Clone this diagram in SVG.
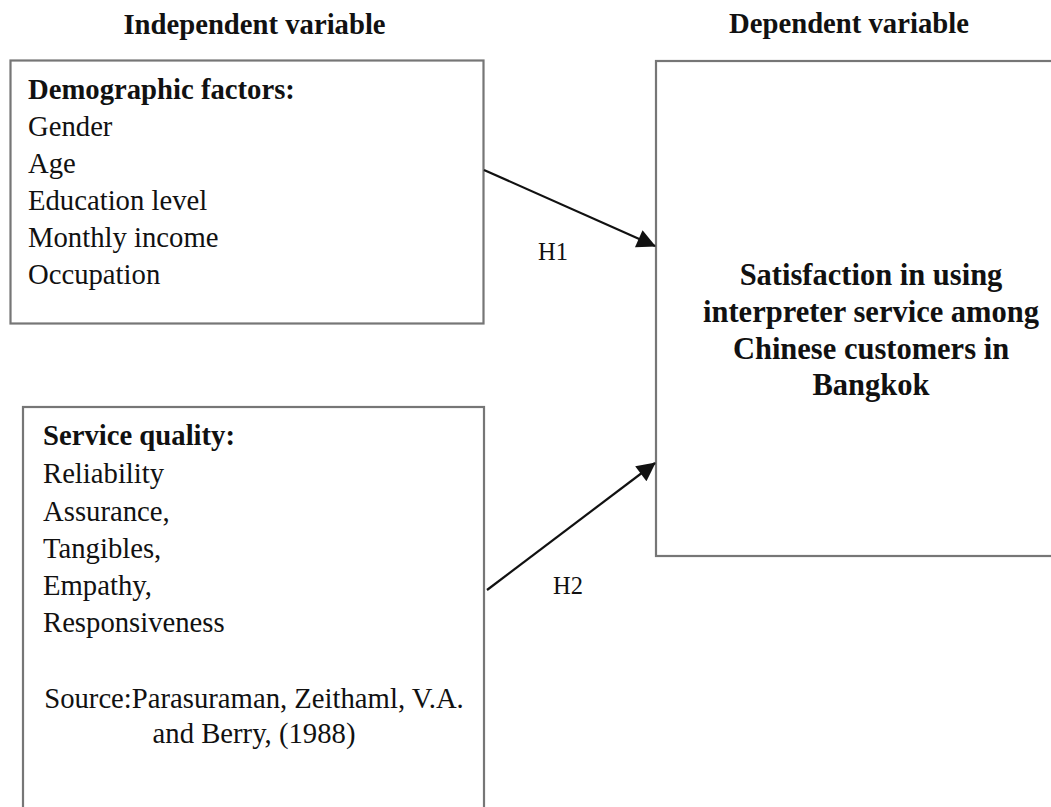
<svg xmlns="http://www.w3.org/2000/svg" width="1051" height="807" viewBox="0 0 1051 807">
  <style>
    .box { fill: #ffffff; stroke: #767676; stroke-width: 2.2; }
    text { font-family: 'Liberation Serif', 'DejaVu Serif', serif; fill: #111111; }
    .t { font-size: 28.7px; }
    .big { font-size: 30.5px; }
    .b { font-weight: bold; }
    .mid { text-anchor: middle; }
    .lbl { font-size: 24.5px; }
    .edge { stroke: #111111; stroke-width: 2.2; fill: none; marker-end: url(#arrow); }
  </style>
  <defs>
    <marker id="arrow" viewBox="0 0 10 10" refX="9.5" refY="5" markerWidth="9.5" markerHeight="8.5" markerUnits="strokeWidth" orient="auto">
      <path d="M0,0 L10,5 L0,10 z" fill="#111111"/>
    </marker>
  </defs>

  <rect width="1051" height="807" fill="#ffffff"/>

  <g font-family="Liberation Serif, DejaVu Serif, serif">
    <!-- column headings -->
    <text class="t b mid" x="254.5" y="34">Independent variable</text>
    <text class="t b mid" x="849" y="33">Dependent variable</text>

    <!-- independent variable: demographic factors -->
    <g id="demographic">
      <rect class="box" x="10.5" y="60.5" width="473" height="263"/>
      <text class="t b" x="28" y="99">Demographic factors:</text>
      <text class="t" x="28" y="136">Gender</text>
      <text class="t" x="28" y="173">Age</text>
      <text class="t" x="28" y="210">Education level</text>
      <text class="t" x="28" y="247">Monthly income</text>
      <text class="t" x="28" y="284">Occupation</text>
    </g>

    <!-- independent variable: service quality -->
    <g id="service-quality">
      <rect class="box" x="23" y="407" width="461" height="420"/>
      <text class="t b" x="43" y="445">Service quality:</text>
      <text class="t" x="43" y="483">Reliability</text>
      <text class="t" x="43" y="521">Assurance,</text>
      <text class="t" x="43" y="558">Tangibles,</text>
      <text class="t" x="43" y="595">Empathy,</text>
      <text class="t" x="43" y="632">Responsiveness</text>
      <text class="t mid" x="254" y="708">Source:Parasuraman, Zeithaml, V.A.</text>
      <text class="t mid" x="254" y="743">and Berry, (1988)</text>
    </g>

    <!-- dependent variable -->
    <g id="satisfaction">
      <rect class="box" x="656" y="61" width="420" height="495"/>
      <text class="big b mid" x="871" y="285">Satisfaction in using</text>
      <text class="big b mid" x="871" y="322">interpreter service among</text>
      <text class="big b mid" x="871" y="359">Chinese customers in</text>
      <text class="big b mid" x="871" y="395">Bangkok</text>
    </g>

    <!-- hypotheses -->
    <g id="connectors">
      <line class="edge" x1="484" y1="170" x2="655" y2="246"/>
      <line class="edge" x1="487" y1="590" x2="655" y2="463"/>
      <text class="lbl" x="538" y="260">H1</text>
      <text class="lbl" x="553" y="594">H2</text>
    </g>
  </g>
</svg>
